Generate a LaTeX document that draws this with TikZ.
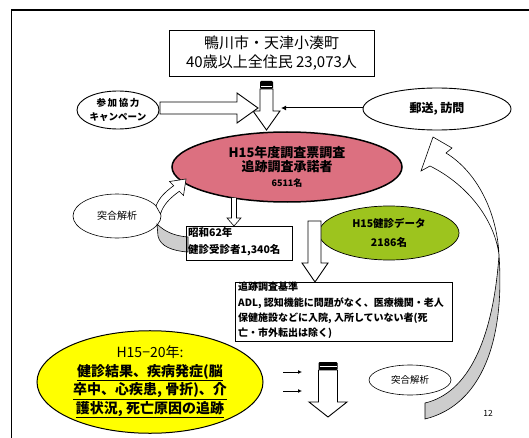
\documentclass[tikz,border=0pt]{standalone}
\usepackage{fontspec}
\setmainfont{Noto Sans CJK JP}
\usetikzlibrary{arrows.meta,shapes.geometric}
\definecolor{pinkf}{RGB}{220,112,128}
\definecolor{greenf}{RGB}{157,196,30}
\definecolor{yellowf}{RGB}{255,255,0}
\definecolor{greyf}{RGB}{205,205,205}
\tikzset{
  ell/.style={ellipse, draw=black, line width=0.9pt, inner sep=0pt, align=center},
  boxn/.style={rectangle, draw=black, line width=0.9pt, inner sep=0pt},
  hollow/.style={draw=black, line width=0.9pt, fill=white, line join=miter},
  thinarr/.style={line width=1pt, -{Latex[length=5pt,width=5pt]}},
  capbar/.style={fill=black, rounded corners=1.2pt},
  fs/.style args={#1/#2}{font=\fontsize{#1}{#2}\selectfont},
  fsb/.style args={#1/#2}{font=\fontsize{#1}{#2}\selectfont\bfseries}
}
\begin{document}
\begin{tikzpicture}[x=1pt,y=-1pt]
\useasboundingbox (0,0) rectangle (529,438);
\fill[white] (0,0) rectangle (529,438);
% frame
\draw[line width=1.2pt] (529,10) -- (11.5,10) -- (11.5,438);

% top box
\node[boxn, minimum width=205, minimum height=46, align=center, fs=15/19] (top) at (271.5,53)
  {鴨川市・天津小湊町\\40歳以上全住民 23,073人};

% side ellipses
\node[ell, minimum width=82, minimum height=38, fsb=9.5/14] (camp) at (118,110)
  {参\,加\,協\,力\\キャンペーン};
\node[ell, minimum width=148, minimum height=42, fsb=12/14] (mail) at (437,109)
  {郵送, 訪問};

% top hollow down arrow with cap
\fill[capbar] (260,81) rectangle (273,89);
\draw[white, line width=0.6pt] (261,86) -- (272,86);
\draw[hollow] (260,89) -- (260,111) -- (253,111) -- (266.5,130) -- (280,111) -- (273,111) -- (273,89) -- cycle;

% horizontal hollow arrow
\draw[hollow] (160,102) -- (237,102) -- (237,93) -- (258,108) -- (237,123) -- (237,114) -- (160,114) -- cycle;

% thin arrow from mail
\coordinate (mailend) at (281,108);
\draw[thinarr] (mail.west |- mailend) -- (mailend);

% pink ellipse
\node[ell, fill=pinkf, line width=1.5pt, minimum width=230, minimum height=70, fsb=13/14.5] (pink) at (287,167)
  {H15年度調査票調査\\[-1pt]
   追跡調査承諾者\\[1pt]
   {\fontsize{9}{11}\selectfont 6511名}};

% left grey band
\fill[greyf, draw=black, line width=0.6pt] (157,224) .. controls (165,232) and (175,236) .. (188,237)
  -- (188,252) .. controls (172,251) and (160,246) .. (158,236) -- cycle;

% left tot ellipse
\node[ell, minimum width=88, minimum height=44, line width=0.6pt, fs=10/12] (tot1) at (117,216)
  {突合解析};

% left curved hollow arrow
\draw[draw=black, line width=0.6pt, fill=white]
  (156,206) .. controls (159,198) and (165,192) .. (173.7,185.7)
  -- (169.5,181.5) -- (186,179) -- (183.5,195.5) -- (179.3,191.3)
  .. controls (170,198) and (163,205) .. (160.5,214) -- cycle;

% showa box
\node[boxn, minimum width=106, minimum height=34] (showa) at (239,243) {};
\node[anchor=west, align=left, inner sep=0pt, fsb=10.5/17] (showat) at (188,242)
  {昭和62年\\健診受診者1,340名};

% small hollow arrow pink -> showa
\draw[hollow, line width=0.6pt] (231.5,198) -- (231.5,218) -- (227,218) -- (234,226) -- (241,218) -- (236.5,218) -- (236.5,198);

% green ellipse
\node[ell, fill=greenf, line width=0.7pt, minimum width=140, minimum height=54, fsb=10.5/19] (green) at (389,233)
  {H15健診データ\\2186名};

% big L hollow arrow
\draw[hollow] (308,221) -- (308,263) -- (302,263) -- (315,282) -- (328,263) -- (321,263) -- (321,221) -- cycle;

% criteria box
\node[boxn, minimum width=217, minimum height=59] (crit) at (343.5,311.5) {};
\node[anchor=north west, align=left, inner sep=0pt, fsb=10/15.2] (critt) at (238,282)
  {追跡調査基準\\
   ADL, 認知機能に問題がなく、医療機関・老人\\
   保健施設などに入院, 入所していない者(死\\
   亡・市外転出は除く)};

% yellow ellipse
\node[ell, fill=yellowf, line width=1pt, minimum width=226, minimum height=94, fsb=14/18.5] (yel) at (150,382)
  {{\mdseries H15−20年:}\\
   \underline{健診結果、疾病発症(脳}\\
   \underline{卒中、心疾患, 骨折)、介}\\
   \underline{護状況, 死亡原因の追跡}};

% small arrows
\coordinate (sa1s) at (283,372); \coordinate (sa1e) at (302,372);
\coordinate (sa2s) at (283,391); \coordinate (sa2e) at (302,391);
\draw[line width=1pt, -{Latex[length=4pt,width=4pt]}] (sa1s) -- (sa1e);
\draw[line width=1pt, -{Latex[length=4pt,width=4pt]}] (sa2s) -- (sa2e);

% bottom hollow arrow with cap
\fill[capbar] (318.5,362) rectangle (337.5,370);
\draw[white, line width=0.6pt] (319.5,366.5) -- (336.5,366.5);
\draw[hollow] (318.5,370) -- (318.5,402) -- (309,402) -- (328,417) -- (347,402) -- (337.5,402) -- (337.5,370) -- cycle;

% right tot ellipse
\node[ell, minimum width=82, minimum height=30, line width=0.6pt, fs=9.5/11] (tot2) at (410,380)
  {突合解析};

% right big curved arrow
\fill[greyf, draw=black, line width=0.6pt]
  (499,255) .. controls (505,340) and (482,405) .. (425,419)
  -- (425,403) .. controls (468,393) and (493,340) .. (499,255) -- cycle;
\draw[draw=black, line width=0.6pt, fill=white]
  (446,153) .. controls (477,172) and (497,212) .. (499,255)
  .. controls (495,222) and (470,186) .. (430,166)
  -- (421,171) -- (433,137) -- (452,148) -- cycle;

% page number
\node[inner sep=0pt, fs=8.5/10] (num12) at (488,413) {12};
\end{tikzpicture}
\end{document}
